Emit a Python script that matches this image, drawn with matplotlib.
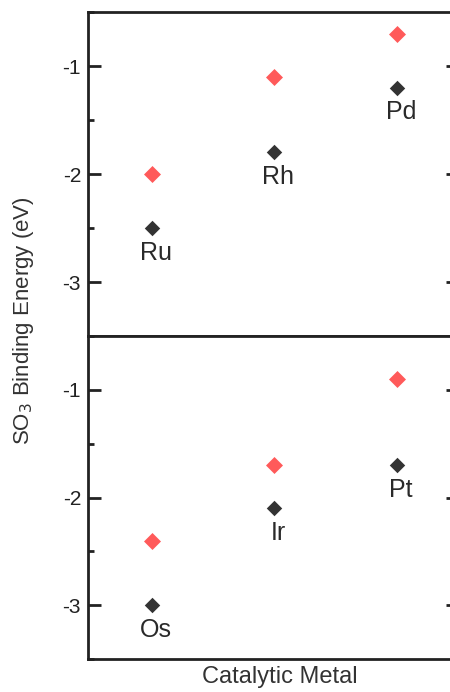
import matplotlib
matplotlib.use("Agg")
import matplotlib.pyplot as plt
from matplotlib.ticker import MultipleLocator

plt.rcParams['font.family'] = ['Liberation Sans', 'DejaVu Sans']
plt.rcParams['axes.unicode_minus'] = False

# top panel: 4d metals
top_metals = ['Ru', 'Rh', 'Pd']
top_red = [-2.0, -1.1, -0.7]
top_black = [-2.5, -1.8, -1.2]

# bottom panel: 5d metals
bot_metals = ['Os', 'Ir', 'Pt']
bot_red = [-2.4, -1.7, -0.9]
bot_black = [-3.0, -2.1, -1.7]

pos = [1, 2, 3]
red = '#ff5a5a'
dark = '#333333'

fig = plt.figure(figsize=(4.5, 6.92), dpi=100)
L, W = 88 / 450, 370 / 450
ax1 = fig.add_axes([L, 1 - 336 / 692, W, 324 / 692])
ax2 = fig.add_axes([L, 1 - 659 / 692, W, 323 / 692])

for ax, metals, rv, bv in [(ax1, top_metals, top_red, top_black),
                           (ax2, bot_metals, bot_red, bot_black)]:
    ax.scatter(pos, rv, marker='D', s=75, color=red, zorder=3, linewidths=0)
    ax.scatter(pos, bv, marker='D', s=62, color=dark, zorder=3, linewidths=0)
    for x, y, name in zip(pos, bv, metals):
        ax.annotate(name, (x, y), xytext=(3, -9), textcoords='offset points',
                    ha='center', va='top', fontsize=18, color='#2a2a2a')
    ax.set_xlim(0.48, 3.5)
    ax.set_ylim(-3.5, -0.5)
    ax.yaxis.set_major_locator(MultipleLocator(1))
    ax.yaxis.set_minor_locator(MultipleLocator(0.5))
    ax.set_xticks([])
    ax.tick_params(axis='y', which='both', direction='in', right=True,
                   labelsize=15, pad=5, width=2, colors='#222222')
    ax.tick_params(axis='y', which='major', length=9)
    ax.tick_params(axis='y', which='minor', length=4)
    for sp in ax.spines.values():
        sp.set_linewidth(2)
        sp.set_color('#222222')

fig.text(24 / 450, 1 - 321 / 692, 'SO$_3$ Binding Energy (eV)', rotation=90,
         ha='center', va='center', fontsize=16, color='#333333')
fig.text(280 / 450, 1 - 677 / 692, 'Catalytic Metal', ha='center',
         va='center', fontsize=17, color='#333333')

fig.savefig('out.png', dpi=100)
